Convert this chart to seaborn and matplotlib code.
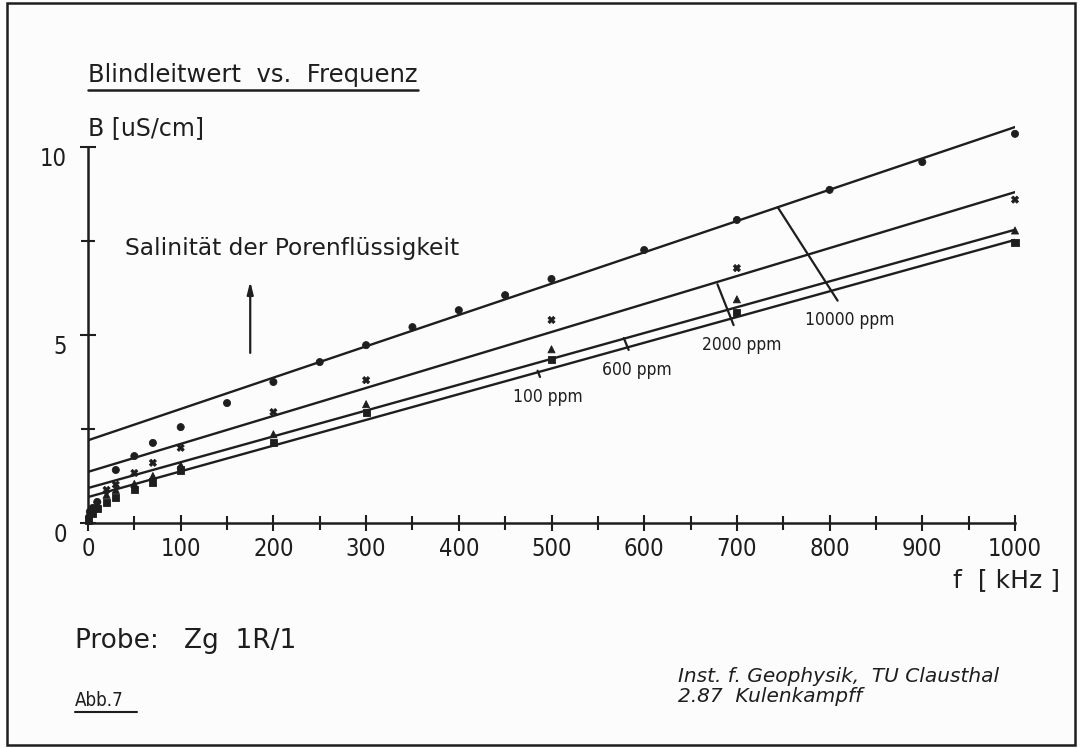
import matplotlib
matplotlib.use("Agg")
import matplotlib.pyplot as plt
import seaborn as sns
import pandas as pd
import numpy as np
from matplotlib.patches import Rectangle
from matplotlib.lines import Line2D
from matplotlib.ticker import MultipleLocator

# ---------------- data ----------------
series_names = ["10000 ppm", "2000 ppm", "600 ppm", "100 ppm"]

freq_10000 = [1, 2, 5, 10, 30, 50, 70, 100, 150, 200, 250, 300, 350, 400, 450, 500, 600, 700, 800, 900, 1000]
b_10000 = [0.15, 0.3, 0.4, 0.56, 1.41, 1.78, 2.13, 2.55, 3.19, 3.75, 4.28, 4.73, 5.21, 5.66, 6.06, 6.49, 7.26, 8.06, 8.86, 9.6, 10.35]

freq_2000 = [1, 5, 10, 20, 30, 50, 70, 100, 200, 300, 500, 700, 1000]
b_2000 = [0.12, 0.35, 0.5, 0.88, 1.02, 1.33, 1.6, 2.0, 2.95, 3.8, 5.4, 6.78, 8.6]

freq_600 = [1, 5, 10, 20, 30, 50, 70, 100, 200, 300, 500, 700, 1000]
b_600 = [0.1, 0.3, 0.45, 0.75, 0.88, 1.04, 1.25, 1.54, 2.36, 3.16, 4.62, 5.95, 7.78]

freq_100 = [1, 5, 10, 20, 30, 50, 70, 100, 200, 300, 500, 700, 1000]
b_100 = [0.08, 0.25, 0.38, 0.55, 0.69, 0.9, 1.09, 1.41, 2.15, 2.95, 4.34, 5.6, 7.45]

# fitted straight lines: value at 0 kHz and at 1000 kHz
fit_f = [0, 1000]
fit_b0 = [2.2, 1.36, 0.93, 0.69]
fit_b1000 = [10.53, 8.8, 7.8, 7.53]

x_ticks = [0, 100, 200, 300, 400, 500, 600, 700, 800, 900, 1000]
y_ticks = [0, 5, 10]

markers = {"10000 ppm": "o", "2000 ppm": "X", "600 ppm": "^", "100 ppm": "s"}

# ---------------- frames ----------------
pts = pd.concat([
    pd.DataFrame({"f": freq_10000, "B": b_10000, "s": "10000 ppm"}),
    pd.DataFrame({"f": freq_2000, "B": b_2000, "s": "2000 ppm"}),
    pd.DataFrame({"f": freq_600, "B": b_600, "s": "600 ppm"}),
    pd.DataFrame({"f": freq_100, "B": b_100, "s": "100 ppm"}),
], ignore_index=True)

fits = pd.concat([
    pd.DataFrame({"f": fit_f, "B": [b0, b1], "s": n})
    for n, b0, b1 in zip(series_names, fit_b0, fit_b1000)
], ignore_index=True)

# ---------------- style ----------------
sns.set_theme(style="white")
plt.rcParams["font.family"] = ["DejaVu Sans"]
ink = "#1e1e1e"

fig = plt.figure(figsize=(10.8, 7.48), dpi=100, facecolor="#fcfcfc")
ax = fig.add_axes([88 / 1080, (748 - 523) / 748, (1015 - 88) / 1080, (523 - 109.4) / 748])
ax.set_facecolor("none")

sns.lineplot(data=fits, x="f", y="B", units="s", estimator=None, color=ink,
             lw=1.7, ax=ax, legend=False)
sns.scatterplot(data=pts, x="f", y="B", style="s", markers=markers, color=ink,
                s=26, edgecolor=ink, linewidth=0.6, ax=ax, legend=False, clip_on=False, zorder=3)

ax.set_xlim(0, 1000)
ax.set_ylim(0, 11)
ax.set_xlabel("")
ax.set_ylabel("")
for sp in ["top", "right"]:
    ax.spines[sp].set_visible(False)
for sp in ["left", "bottom"]:
    ax.spines[sp].set_color(ink)
    ax.spines[sp].set_linewidth(1.8)
ax.spines["left"].set_bounds(0, 10)

ax.set_xticks(x_ticks)
ax.set_yticks(y_ticks)
ax.xaxis.set_minor_locator(MultipleLocator(50))
ax.yaxis.set_minor_locator(MultipleLocator(2.5))
ax.tick_params(axis="both", which="both", direction="inout", color=ink, width=1.5,
               labelsize=17, labelcolor=ink, bottom=True, left=True)
ax.tick_params(axis="both", which="major", length=12)
ax.tick_params(axis="both", which="minor", length=10)
ax.tick_params(axis="x", pad=4)
ax.tick_params(axis="y", pad=9)
ax.set_xticklabels([str(v) for v in x_ticks], fontstretch="condensed")
ax.set_yticklabels([str(v) for v in y_ticks], fontstretch="condensed")
for t in ax.get_yticklabels():
    t.set_va("top")

# ---------------- annotations ----------------
lab_kw = dict(fontsize=12.5, color=ink, ha="center", va="center", fontstretch="condensed",
              arrowprops=dict(arrowstyle="-", color=ink, lw=1.6, shrinkA=6, shrinkB=0))
ax.annotate("10000 ppm", xy=(744, 8.4), xytext=(822, 5.4), **lab_kw)
ax.annotate("2000 ppm", xy=(679, 6.35), xytext=(705, 4.73), **lab_kw)
ax.annotate("600 ppm", xy=(578, 4.92), xytext=(592, 4.07), **lab_kw)
ax.annotate("100 ppm", xy=(485, 4.05), xytext=(496, 3.35), **lab_kw)

ax.text(40, 7.3, "Salinität der Porenflüssigkeit", fontsize=16.8, color=ink,
        ha="left", va="center")
ax.annotate("", xy=(175, 6.5), xytext=(175, 4.45),
            arrowprops=dict(arrowstyle="-|>,head_length=0.6,head_width=0.15", color=ink, lw=1.6))

# ---------------- figure texts ----------------
fig.text(88 / 1080, 1 - 75 / 748, "Blindleitwert  vs.  Frequenz", fontsize=17.5,
         color=ink, ha="left", va="center")
fig.add_artist(Line2D([88 / 1080, 418 / 1080], [1 - 90 / 748, 1 - 90 / 748], color=ink, lw=1.8))
fig.text(88 / 1080, 1 - 128 / 748, "B [uS/cm]", fontsize=17, color=ink,
         ha="left", va="center")
fig.text(1060 / 1080, 1 - 580 / 748, "f  [ kHz ]", fontsize=18, color=ink,
         ha="right", va="center")
fig.text(75 / 1080, 1 - 641 / 748, "Probe:   Zg  1R/1", fontsize=19, color=ink,
         ha="left", va="center")
fig.text(75 / 1080, 1 - 700 / 748, "Abb.7", fontsize=13.5, color=ink,
         ha="left", va="center", fontstretch="condensed")
fig.add_artist(Line2D([75 / 1080, 137 / 1080], [1 - 712 / 748, 1 - 712 / 748], color=ink, lw=1.5))
fig.text(678 / 1080, 1 - 677 / 748, "Inst. f. Geophysik,  TU Clausthal", fontsize=14.5,
         color=ink, ha="left", va="center", style="italic")
fig.text(678 / 1080, 1 - 697 / 748, "2.87  Kulenkampff", fontsize=14.5,
         color=ink, ha="left", va="center", style="italic")

fig.add_artist(Rectangle((7 / 1080, 3 / 748), (1075 - 7) / 1080, (745 - 3) / 748,
                         transform=fig.transFigure, fill=False, edgecolor=ink, lw=1.8))

fig.savefig("out.png", dpi=100, facecolor=fig.get_facecolor())
